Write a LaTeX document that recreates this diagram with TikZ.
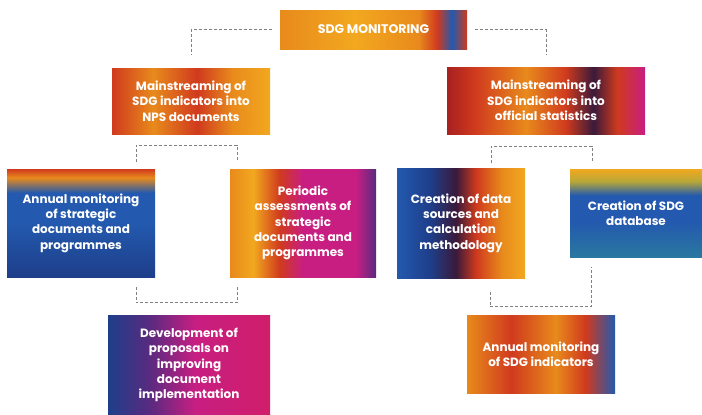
\documentclass[tikz,border=0pt]{standalone}
\usepackage{fontspec}
\setmainfont{Poppins}
\definecolor{paintOrange}{HTML}{E88A1C}
\definecolor{paintYellow}{HTML}{F2A81F}
\definecolor{paintRed}{HTML}{D03A1E}
\definecolor{paintDeepRed}{HTML}{A82020}
\definecolor{paintBlue}{HTML}{2359AE}
\definecolor{paintNavy}{HTML}{1E3E8A}
\definecolor{paintMagenta}{HTML}{C81E82}
\definecolor{paintPink}{HTML}{D01E6A}
\definecolor{paintPurple}{HTML}{5A2A80}
\definecolor{paintDark}{HTML}{3A1A3A}
\definecolor{paintTeal}{HTML}{2A78A0}
\definecolor{paintOlive}{HTML}{B8A838}
\definecolor{linkGray}{HTML}{808080}
% painted looks of the boxes
\pgfdeclarehorizontalshading{shTop}{100bp}{color(0bp)=(paintOrange); color(25bp)=(paintOrange); color(45bp)=(paintYellow); color(62bp)=(paintOrange); color(67bp)=(paintRed); color(71bp)=(paintBlue); color(75bp)=(paintRed); color(100bp)=(paintRed)}
\pgfdeclarehorizontalshading{shNps}{100bp}{color(0bp)=(paintRed); color(25bp)=(paintRed); color(38bp)=(paintOrange); color(52bp)=(paintRed); color(63bp)=(paintOrange); color(75bp)=(paintYellow); color(100bp)=(paintYellow)}
\pgfdeclarehorizontalshading{shOff}{100bp}{color(0bp)=(paintDeepRed); color(25bp)=(paintDeepRed); color(32bp)=(paintRed); color(45bp)=(paintOrange); color(55bp)=(paintRed); color(62bp)=(paintDark); color(68bp)=(paintRed); color(75bp)=(paintMagenta); color(100bp)=(paintMagenta)}
\pgfdeclareverticalshading{shAnn}{100bp}{color(0bp)=(paintNavy); color(25bp)=(paintNavy); color(50bp)=(paintBlue); color(64bp)=(paintBlue); color(71bp)=(paintOrange); color(75bp)=(paintRed); color(100bp)=(paintRed)}
\pgfdeclarehorizontalshading{shPer}{100bp}{color(0bp)=(paintOrange); color(25bp)=(paintOrange); color(33bp)=(paintYellow); color(42bp)=(paintRed); color(50bp)=(paintMagenta); color(68bp)=(paintMagenta); color(75bp)=(paintPurple); color(100bp)=(paintPurple)}
\pgfdeclarehorizontalshading{shSrc}{100bp}{color(0bp)=(paintBlue); color(25bp)=(paintBlue); color(38bp)=(paintNavy); color(48bp)=(paintDark); color(56bp)=(paintRed); color(66bp)=(paintOrange); color(75bp)=(paintYellow); color(100bp)=(paintYellow)}
\pgfdeclareverticalshading{shDb}{100bp}{color(0bp)=(paintTeal); color(25bp)=(paintTeal); color(45bp)=(paintBlue); color(60bp)=(paintBlue); color(68bp)=(paintOlive); color(75bp)=(paintYellow); color(100bp)=(paintYellow)}
\pgfdeclarehorizontalshading{shDev}{100bp}{color(0bp)=(paintNavy); color(25bp)=(paintNavy); color(38bp)=(paintPurple); color(52bp)=(paintMagenta); color(75bp)=(paintPink); color(100bp)=(paintPink)}
\pgfdeclarehorizontalshading{shSdg}{100bp}{color(0bp)=(paintOrange); color(25bp)=(paintOrange); color(40bp)=(paintRed); color(55bp)=(paintOrange); color(65bp)=(paintRed); color(75bp)=(paintBlue); color(100bp)=(paintBlue)}
\tikzset{
	box/.style={rectangle, inner sep=0pt, align=center, text=white,
		font=\bfseries\fontsize{12}{15.3}\selectfont},
	link/.style={draw=linkGray, line width=0.8pt, dash pattern=on 3pt off 2pt}
}
\begin{document}
\begin{tikzpicture}[x=1pt,y=-1pt]
	\useasboundingbox (0,0) rectangle (702,415);
	\node[box, shading=shTop, minimum width=187, minimum height=39, font=\bfseries\fontsize{12.5}{15}\selectfont] (sdg) at (373.5,29.5) {SDG MONITORING};
	\node[box, shading=shNps, minimum width=158, minimum height=66] (nps) at (191,101) {Mainstreaming of\\SDG indicators into\\NPS documents};
	\node[box, shading=shOff, minimum width=198, minimum height=67] (off) at (546,100.5) {Mainstreaming of\\SDG indicators into\\official statistics};
	\node[box, shading=shAnn, minimum width=148, minimum height=108] (ann) at (81,223) {Annual monitoring\\of strategic\\documents and\\programmes};
	\node[box, shading=shPer, minimum width=146, minimum height=108] (per) at (303,223) {Periodic\\assessments of\\strategic\\documents and\\programmes};
	\node[box, shading=shSrc, minimum width=128, minimum height=110] (src) at (461,223) {Creation of data\\sources and\\calculation\\methodology};
	\node[box, shading=shDb, minimum width=132, minimum height=88] (db) at (636,213) {Creation of SDG\\database};
	\node[box, shading=shDev, minimum width=162, minimum height=100] (dev) at (189,365) {Development of\\proposals on\\improving\\document\\implementation};
	\node[box, shading=shSdg, minimum width=148, minimum height=78] (annsdg) at (541,354) {Annual monitoring\\of SDG indicators};
	% free ends of the dashed links
	\coordinate (l1) at (136,162); \coordinate (l2) at (237,162);
	\coordinate (l3) at (136,287); \coordinate (l4) at (237,287);
	\coordinate (r1) at (491,163); \coordinate (r2) at (592,163);
	\coordinate (r3) at (490,292); \coordinate (r4) at (591,267);
	\draw[link] ([xshift=-8pt]sdg.west) -| ([yshift=13pt]nps.north);
	\draw[link] ([xshift=8pt]sdg.east) -| ([yshift=13pt]off.north);
	\draw[link] (l1) |- ([yshift=-11pt]nps.south) -| (l2);
	\draw[link] (l3) |- ([yshift=12pt]dev.north) -| (l4);
	\draw[link] (r1) |- ([yshift=-12pt]off.south) -| (r2);
	\draw[link] (r3) |- ([yshift=8pt]annsdg.north) -| (r4);
\end{tikzpicture}
\end{document}
